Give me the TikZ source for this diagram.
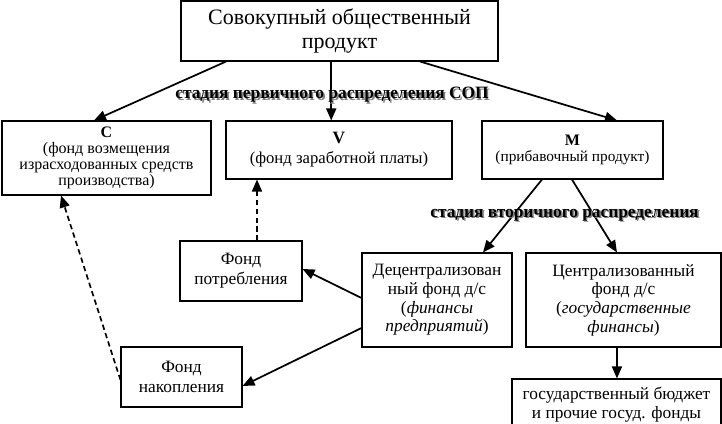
\documentclass[tikz,border=0pt]{standalone}
\usepackage{fontspec}
\setmainfont{Liberation Serif}
\usetikzlibrary{arrows.meta,calc}
\tikzset{
  box/.style={draw, line width=0.8pt, align=center, inner sep=0pt},
  arr/.style={-{Triangle[length=9pt,width=7.5pt]}, line width=1.3pt},
  darr/.style={-{Triangle[length=9pt,width=7.5pt]}, line width=1.25pt, dash pattern=on 4pt off 2.6pt},
  stagetext/.style={inner sep=0pt, font=\fontsize{13}{13}\selectfont\bfseries},
  stageshadow/.style={stagetext, text=black!50},
  topfont/.style={font=\fontsize{16.5}{16.5}\selectfont},
  midfont/.style={font=\fontsize{12}{12}\selectfont},
  lowfont/.style={font=\fontsize{13}{14}\selectfont},
}
\begin{document}
\begin{tikzpicture}[x=0.75pt,y=-0.75pt]
\useasboundingbox (0,0) rectangle (722,424);

\node[box, topfont, minimum width=237.75pt, minimum height=45pt] (top) at (339.5,31)
  {Совокупный общественный\\[1pt]продукт};

\node[box, midfont, minimum width=156.75pt, minimum height=55.5pt] (C) at (106.5,158)
  {\textbf{C}\\[0.5pt](фонд возмещения\\израсходованных средств\\производства)};
\node[box, midfont, minimum width=169.5pt, minimum height=43.5pt] (V) at (339,150)
  {{\fontsize{13}{13}\selectfont\textbf{V}}\\[3pt]{\fontsize{12.5}{13}\selectfont(фонд заработной платы)}};
\node[box, midfont, minimum width=135.75pt, minimum height=43.5pt] (M) at (572.5,150)
  {\textbf{M}\\[0.5pt]{\fontsize{11.5}{12}\selectfont(прибавочный продукт)}};

\node[box, lowfont, minimum width=91.5pt, minimum height=45pt] (FP) at (241,271)
  {Фонд\\[1pt]потребления};
\node[box, lowfont, minimum width=112.5pt, minimum height=70.5pt] (Dec) at (437,300)
  {Децентрализован\\ный фонд д/с\\(\textit{финансы}\\\textit{предприятий})};
\node[box, lowfont, minimum width=146.25pt, minimum height=70.5pt] (Cen) at (623.5,300)
  {Централизованный\\фонд д/с\\(\textit{государственные}\\\textit{финансы})};
\node[box, lowfont, minimum width=90.75pt, minimum height=45pt] (FN) at (181.5,377)
  {Фонд\\[1pt]накопления};
\node[box, lowfont, minimum width=156.75pt, minimum height=38.25pt] (Bud) at (616.5,404.5)
  {государственный бюджет\\и прочие госуд. фонды};

% arrows
\draw[arr] ([xshift=-85.1pt]top.south) -- ([xshift=-9.4pt]C.north);
\draw[arr] ([xshift=-6.2pt]top.south) -- ([xshift=-6.2pt]top.south |- V.north);
\draw[arr] ([xshift=60.4pt]top.south) -- ([xshift=33.4pt]M.north);
\draw[arr] ([xshift=-22.9pt]M.south) -- ([xshift=34.5pt]Dec.north);
\draw[arr] ([xshift=-0.4pt]M.south) -- ([xshift=-4.9pt]Cen.north);
\draw[arr] ([yshift=1.5pt]Dec.west) -- ([yshift=1.5pt]FP.east);
\draw[arr] ([yshift=-21pt]Dec.west) -- ([yshift=-6.75pt]FN.east);
\draw[arr] ([xshift=-4.9pt]Cen.south) -- ([xshift=-4.9pt]Cen.south |- Bud.north);
\draw[darr] ([yshift=-2.25pt]FN.west) -- ([xshift=-34.1pt]C.south);
\draw[darr] ([xshift=12pt]FP.north) -- ([xshift=12pt]FP.north |- V.south);

% stage labels (with shadow)
\node[stageshadow] (s1sh) at (333.6,96.6) {стадия первичного распределения СОП};
\node[stagetext] (s1) at (332,95) {стадия первичного распределения СОП};
\node[stageshadow] (s2sh) at (566.1,216.6) {стадия вторичного распределения};
\node[stagetext] (s2) at (564.5,215) {стадия вторичного распределения};
\end{tikzpicture}
\end{document}
